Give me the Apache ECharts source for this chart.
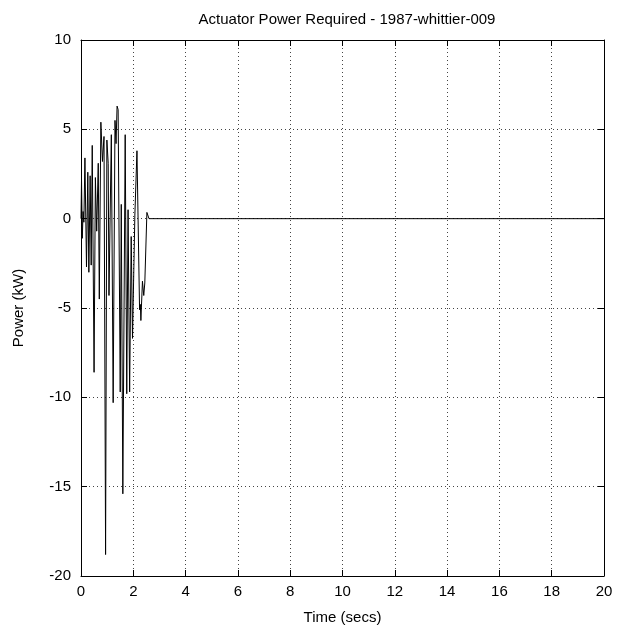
<!DOCTYPE html>
<html>
<head>
<meta charset="utf-8">
<script src="https://cdn.jsdelivr.net/npm/echarts@6/dist/echarts.min.js"></script>
<style>
  html, body { margin: 0; padding: 0; background: #fff; }
  #chart { width: 620px; height: 630px; }
</style>
</head>
<body>
<div id="chart"></div>
<script>
const timeSecs = [
  0.00, 0.02, 0.05, 0.08, 0.11, 0.15, 0.21, 0.26, 0.30, 0.35,
  0.39, 0.43, 0.50, 0.55, 0.60, 0.66, 0.70, 0.76, 0.82, 0.88,
  0.94, 0.99, 1.04, 1.07, 1.16, 1.23, 1.30, 1.34, 1.38, 1.42,
  1.50, 1.54, 1.60, 1.69, 1.75, 1.80, 1.86, 1.92, 1.97, 2.06,
  2.14, 2.24, 2.27, 2.29, 2.35, 2.40, 2.44, 2.52, 2.60, 20.0
];
const powerKW = [
  0.0, 2.2, -1.1, 0.4, -0.2, 3.4, -2.7, 2.6, -3.0, 2.4,
  -2.6, 4.1, -8.6, 2.3, -0.7, 3.1, -4.5, 5.4, 3.2, 4.6,
  -18.8, 4.4, 3.1, -4.3, 4.7, -10.3, 5.5, 4.2, 6.3, 6.1,
  -9.7, 0.8, -15.4, 4.7, -9.8, 0.5, -9.7, -1.0, -6.7, 0.2,
  3.8, -5.1, -4.8, -5.7, -3.5, -4.3, -3.6, 0.35, 0.0, 0.0
];

const xTicks = { min: 0, max: 20, interval: 2 };
const yTicks = { min: -20, max: 10, interval: 5 };

const font = 'Liberation Sans, Arial, sans-serif';
const gridLine = { show: true, lineStyle: { color: '#444', type: [1, 3], width: 1 } };

const chart = echarts.init(document.getElementById('chart'), null, { renderer: 'canvas' });

chart.setOption({
  animation: false,
  backgroundColor: '#fff',
  title: {
    text: 'Actuator Power Required - 1987-whittier-009',
    left: 342, top: 7, textAlign: 'center',
    textStyle: { fontFamily: font, fontSize: 15, fontWeight: 'normal', color: '#000' }
  },
  grid: { left: 81, right: 16, top: 40, bottom: 53 },
  xAxis: [{
    type: 'value', ...xTicks,
    name: 'Time (secs)', nameLocation: 'middle', nameGap: 34,
    nameTextStyle: { fontFamily: font, fontSize: 15, color: '#000' },
    axisLine: { onZero: false, lineStyle: { color: '#000', width: 1 } },
    axisTick: { inside: true, length: 6, lineStyle: { color: '#000' } },
    axisLabel: { fontFamily: font, fontSize: 15, color: '#000', margin: 8 },
    splitLine: gridLine
  }, {
    type: 'value', ...xTicks, position: 'top',
    axisLine: { onZero: false, lineStyle: { color: '#000', width: 1 } },
    axisTick: { inside: true, length: 6, lineStyle: { color: '#000' } },
    axisLabel: { show: false },
    splitLine: { show: false }
  }],
  yAxis: [{
    type: 'value', ...yTicks,
    name: 'Power (kW)', nameLocation: 'middle', nameGap: 55, nameRotate: 90,
    nameTextStyle: { fontFamily: font, fontSize: 15, color: '#000' },
    axisLine: { show: true, onZero: false, lineStyle: { color: '#000', width: 1 } },
    axisTick: { show: true, inside: true, length: 6, lineStyle: { color: '#000' } },
    axisLabel: { fontFamily: font, fontSize: 15, color: '#000', margin: 10 },
    splitLine: gridLine
  }, {
    type: 'value', ...yTicks, position: 'right',
    axisLine: { show: true, onZero: false, lineStyle: { color: '#000', width: 1 } },
    axisTick: { show: true, inside: true, length: 6, lineStyle: { color: '#000' } },
    axisLabel: { show: false },
    splitLine: { show: false }
  }],
  series: [{
    type: 'line',
    data: timeSecs.map((t, i) => [t, powerKW[i]]),
    showSymbol: false,
    lineStyle: { color: '#000', width: 1 },
    z: 5
  }]
});
</script>
</body>
</html>
